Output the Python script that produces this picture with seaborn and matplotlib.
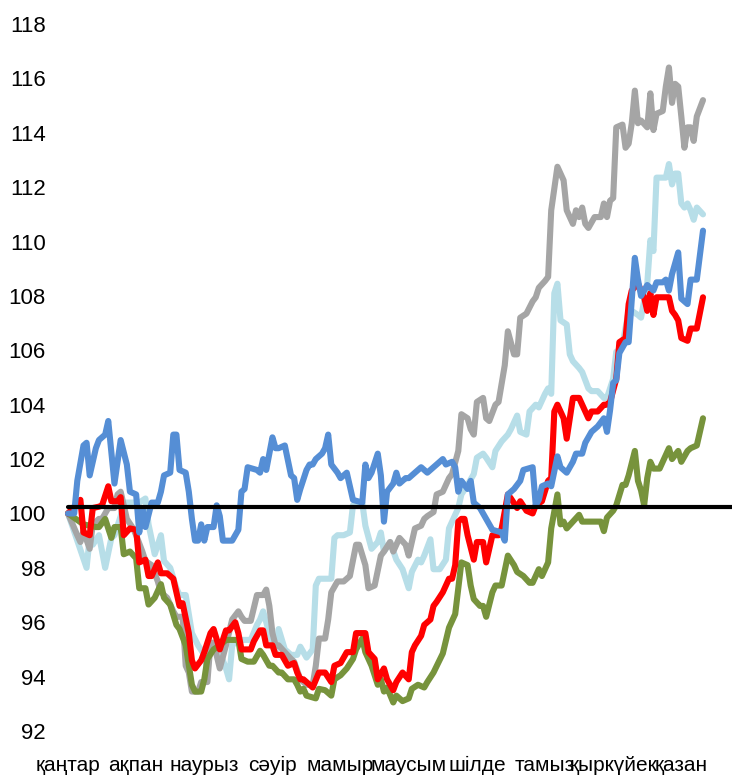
import numpy as np
import pandas as pd
import matplotlib
matplotlib.use("Agg")
import matplotlib.pyplot as plt
import seaborn as sns

months = ["қаңтар", "ақпан", "наурыз", "сәуір", "мамыр", "маусым",
          "шілде", "тамыз", "қыркүйек", "қазан"]
month_start_day = [0, 22, 44, 66, 88, 110, 132, 154, 176, 198]
yticks = [92, 94, 96, 98, 100, 102, 104, 106, 108, 110, 112, 114, 116, 118]
reference_level = 100.25

blue_day = [0, 2, 3, 5, 6, 7, 9, 10, 12, 13, 15, 17, 19, 20, 22, 23, 24, 25, 27, 29, 30, 31, 33, 34, 35, 36, 38, 39, 40, 41, 42, 43, 44, 45, 47, 48, 49, 50, 53, 55, 56, 57, 58, 61, 62, 63, 64, 66, 67, 68, 70, 72, 73, 74, 75, 77, 78, 79, 80, 82, 83, 84, 85, 87, 88, 90, 92, 95, 96, 97, 98, 100, 101, 102, 103, 105, 106, 107, 109, 110, 112, 114, 116, 117, 119, 121, 122, 124, 125, 126, 127, 129, 130, 131, 133, 135, 137, 140, 141, 142, 144, 146, 147, 150, 151, 152, 153, 155, 156, 158, 159, 161, 163, 164, 166, 167, 169, 171, 173, 174, 175, 176, 177, 178, 180, 181, 183, 184, 185, 187, 189, 190, 192, 193, 194, 195, 197, 198, 200, 201, 203, 205]
blue_val = [100.0, 100.0, 101.2, 102.5, 102.6, 101.4, 102.4, 102.7, 102.9, 103.4, 101.1, 102.7, 101.8, 100.8, 100.7, 99.3, 100.2, 99.5, 100.4, 100.4, 100.8, 101.4, 101.5, 102.9, 102.9, 101.6, 101.5, 100.8, 99.8, 99.0, 99.0, 99.6, 99.0, 99.5, 99.5, 100.3, 99.9, 99.0, 99.0, 99.4, 100.8, 100.9, 101.7, 101.6, 101.5, 102.0, 101.6, 102.8, 102.4, 102.4, 102.5, 101.4, 101.3, 100.5, 100.9, 101.6, 101.8, 101.8, 102.0, 102.2, 102.4, 102.9, 101.8, 101.5, 101.3, 101.5, 100.5, 100.4, 101.8, 101.3, 101.5, 102.2, 101.4, 99.7, 100.8, 101.1, 101.5, 101.1, 101.3, 101.3, 101.5, 101.7, 101.5, 101.6, 101.8, 102.0, 101.8, 101.9, 101.7, 100.8, 101.2, 100.9, 101.2, 100.4, 100.2, 99.8, 99.4, 99.3, 99.0, 100.7, 100.9, 101.2, 101.6, 101.7, 100.3, 100.5, 101.0, 101.1, 101.0, 102.1, 101.7, 101.5, 101.9, 102.2, 102.2, 102.6, 103.0, 103.2, 103.5, 103.0, 103.8, 104.8, 104.9, 105.9, 106.3, 106.3, 109.4, 108.6, 108.0, 108.4, 108.2, 108.5, 108.5, 108.6, 108.2, 108.8, 109.6, 107.9, 107.7, 108.6, 108.6, 110.4]

red_day = [0, 4, 5, 7, 8, 10, 11, 13, 14, 16, 17, 18, 20, 22, 23, 25, 26, 27, 29, 30, 32, 34, 35, 36, 37, 39, 40, 41, 43, 44, 46, 47, 49, 51, 52, 54, 55, 56, 59, 60, 62, 63, 64, 66, 67, 69, 71, 73, 74, 75, 76, 77, 79, 81, 83, 85, 86, 88, 90, 92, 93, 96, 97, 99, 100, 102, 103, 105, 106, 108, 110, 111, 112, 114, 115, 117, 118, 119, 121, 123, 124, 125, 126, 127, 128, 129, 131, 132, 134, 135, 137, 139, 140, 142, 143, 145, 146, 148, 150, 151, 153, 155, 156, 157, 158, 160, 161, 163, 165, 166, 168, 169, 171, 173, 174, 175, 177, 178, 180, 181, 182, 184, 185, 186, 187, 188, 189, 190, 192, 194, 195, 196, 197, 198, 200, 201, 203, 205]
red_val = [100.0, 100.5, 99.3, 99.2, 100.2, 100.25, 100.3, 101.0, 100.45, 100.45, 100.6, 99.2, 99.45, 99.4, 98.2, 98.3, 97.7, 97.7, 98.2, 97.8, 97.8, 97.6, 97.1, 96.6, 96.7, 95.6, 94.6, 94.3, 94.6, 94.9, 95.6, 95.75, 95.0, 95.7, 95.7, 96.0, 95.6, 95.0, 95.0, 95.3, 95.7, 95.7, 95.15, 95.15, 94.8, 94.8, 94.4, 94.5, 94.15, 93.9, 93.9, 93.8, 93.6, 94.15, 94.15, 93.8, 94.4, 94.5, 94.9, 94.9, 95.6, 95.6, 94.9, 94.65, 93.9, 94.3, 93.9, 93.5, 93.8, 94.15, 93.9, 94.9, 95.15, 95.5, 95.9, 96.1, 96.6, 96.75, 97.1, 97.6, 97.6, 98.1, 99.7, 99.8, 99.8, 99.2, 98.3, 98.95, 98.95, 98.2, 99.2, 99.2, 99.45, 100.7, 100.55, 100.2, 100.45, 100.1, 100.0, 100.3, 100.45, 101.2, 101.3, 103.75, 104.0, 103.5, 102.75, 104.25, 104.25, 104.0, 103.5, 103.75, 103.75, 104.0, 104.0, 104.1, 104.95, 106.3, 106.45, 107.7, 108.2, 108.45, 108.2, 107.95, 107.45, 108.1, 107.3, 107.95, 107.95, 107.95, 107.45, 107.3, 107.1, 106.45, 106.35, 106.8, 106.8, 107.95]

olive_day = [0, 5, 9, 10, 12, 14, 15, 17, 18, 20, 22, 23, 25, 26, 28, 30, 31, 33, 35, 36, 38, 40, 41, 43, 44, 45, 47, 49, 51, 53, 55, 56, 58, 60, 62, 63, 65, 66, 68, 69, 71, 73, 74, 75, 76, 77, 80, 81, 83, 85, 86, 88, 90, 92, 93, 95, 96, 98, 100, 101, 102, 103, 105, 106, 108, 110, 111, 113, 115, 116, 118, 121, 123, 125, 127, 129, 130, 131, 133, 134, 135, 137, 138, 140, 142, 144, 145, 147, 149, 150, 152, 153, 155, 156, 158, 159, 160, 161, 163, 165, 166, 168, 171, 172, 173, 174, 176, 177, 179, 180, 181, 183, 184, 185, 186, 187, 188, 189, 191, 193, 194, 195, 197, 198, 200, 201, 203, 205]
olive_val = [100.0, 99.6, 99.5, 99.5, 99.8, 99.1, 99.5, 99.5, 98.5, 98.6, 98.35, 97.25, 97.25, 96.65, 96.9, 97.4, 96.9, 96.65, 95.9, 95.75, 95.15, 93.7, 93.45, 93.45, 93.9, 94.65, 95.0, 95.15, 95.35, 95.35, 95.35, 94.65, 94.55, 94.55, 94.95, 94.8, 94.4, 94.4, 94.15, 94.15, 93.9, 93.9, 93.7, 93.45, 93.55, 93.3, 93.2, 93.55, 93.5, 93.3, 93.9, 94.05, 94.3, 94.65, 95.0, 95.4, 94.9, 94.4, 93.7, 93.9, 93.45, 93.6, 93.05, 93.3, 93.1, 93.2, 93.55, 93.7, 93.6, 93.8, 94.15, 94.85, 95.8, 96.3, 98.2, 98.1, 97.35, 96.85, 96.6, 96.6, 96.2, 97.1, 97.35, 97.35, 98.45, 98.1, 97.85, 97.7, 97.45, 97.45, 97.95, 97.7, 98.2, 99.45, 100.7, 99.6, 99.7, 99.45, 99.7, 99.95, 99.7, 99.7, 99.7, 99.7, 99.35, 99.85, 100.1, 100.3, 101.05, 101.05, 101.4, 102.3, 101.2, 100.85, 100.3, 101.3, 101.9, 101.65, 101.65, 102.15, 102.4, 102.0, 102.3, 101.9, 102.3, 102.4, 102.5, 103.5]

gray_day = [0, 3, 4, 5, 7, 8, 10, 11, 13, 15, 16, 17, 19, 21, 22, 24, 25, 27, 29, 30, 32, 34, 35, 37, 38, 39, 40, 42, 43, 45, 46, 47, 49, 51, 53, 55, 56, 57, 59, 61, 63, 64, 65, 66, 67, 68, 70, 72, 73, 75, 76, 77, 79, 80, 81, 83, 84, 85, 87, 89, 91, 93, 94, 96, 97, 99, 101, 102, 104, 105, 107, 109, 110, 112, 114, 115, 116, 118, 119, 121, 123, 124, 126, 127, 129, 130, 131, 132, 134, 135, 136, 138, 139, 141, 142, 144, 145, 146, 148, 150, 151, 152, 154, 155, 156, 158, 159, 160, 161, 163, 164, 165, 166, 167, 168, 170, 172, 173, 174, 175, 176, 177, 179, 180, 181, 182, 183, 184, 185, 187, 188, 189, 190, 192, 193, 194, 195, 196, 197, 198, 199, 200, 201, 202, 203, 205]
gray_val = [100.0, 99.2, 98.95, 99.35, 98.7, 99.6, 99.8, 99.8, 100.2, 100.2, 100.7, 100.8, 99.8, 99.45, 99.2, 98.6, 98.25, 98.1, 97.5, 97.1, 96.9, 96.4, 96.2, 96.2, 94.4, 94.15, 93.45, 93.45, 93.8, 93.8, 95.25, 95.25, 94.3, 95.15, 96.1, 96.4, 96.2, 96.05, 96.05, 97.0, 97.0, 97.2, 96.6, 95.6, 95.15, 95.15, 94.9, 94.65, 94.55, 93.9, 93.8, 93.7, 93.7, 94.4, 95.4, 95.4, 96.1, 97.1, 97.5, 97.5, 97.7, 98.85, 98.85, 98.1, 97.25, 97.35, 98.45, 98.6, 98.95, 98.6, 99.1, 98.85, 98.45, 99.45, 99.55, 99.8, 99.9, 100.05, 100.7, 100.8, 101.3, 101.45, 102.3, 103.65, 103.5, 103.1, 102.9, 104.1, 104.25, 103.5, 103.4, 104.0, 104.1, 105.45, 106.7, 105.85, 105.85, 107.2, 107.35, 107.8, 107.95, 108.3, 108.55, 108.7, 111.15, 112.75, 112.5, 112.25, 111.15, 110.65, 111.15, 110.9, 111.25, 110.65, 110.5, 110.9, 110.9, 111.4, 110.9, 111.5, 111.6, 114.2, 114.3, 113.45, 113.6, 114.35, 115.55, 114.35, 114.45, 114.2, 115.45, 114.1, 114.7, 114.8, 115.7, 116.4, 115.1, 115.8, 115.7, 114.6, 113.45, 114.2, 114.2, 113.7, 114.6, 115.2]

light_day = [0, 3, 6, 7, 8, 10, 12, 14, 15, 17, 18, 21, 23, 25, 26, 28, 30, 31, 33, 35, 36, 38, 40, 42, 44, 45, 46, 48, 49, 51, 52, 53, 55, 57, 59, 61, 62, 63, 65, 67, 68, 70, 72, 74, 75, 77, 79, 80, 81, 83, 85, 86, 87, 89, 91, 92, 94, 95, 96, 98, 100, 101, 102, 104, 106, 108, 109, 110, 111, 113, 114, 115, 117, 118, 120, 122, 123, 124, 126, 127, 129, 131, 132, 134, 135, 137, 138, 140, 142, 143, 145, 146, 148, 149, 151, 152, 154, 155, 156, 157, 158, 159, 161, 162, 163, 165, 166, 168, 169, 171, 173, 174, 176, 177, 178, 179, 181, 182, 184, 185, 187, 188, 189, 190, 191, 193, 194, 195, 196, 197, 198, 199, 200, 201, 202, 203, 205]
light_val = [100.0, 99.0, 98.0, 99.1, 98.85, 99.2, 98.0, 99.1, 99.2, 99.9, 100.4, 100.4, 100.4, 100.55, 99.6, 98.5, 99.2, 98.25, 98.0, 97.25, 97.0, 97.0, 95.6, 95.15, 94.8, 94.2, 95.15, 95.15, 94.9, 94.3, 93.9, 95.15, 95.35, 95.35, 95.35, 95.9, 96.1, 96.4, 95.6, 94.9, 95.75, 95.0, 94.8, 94.8, 95.1, 94.7, 95.0, 97.35, 97.6, 97.6, 97.6, 99.1, 99.2, 99.2, 99.3, 100.3, 100.4, 100.4, 99.55, 98.7, 98.95, 99.3, 98.6, 98.95, 98.3, 97.95, 97.6, 97.25, 97.85, 98.3, 98.2, 98.45, 99.05, 97.95, 97.95, 98.3, 99.45, 99.7, 100.2, 100.7, 101.05, 101.45, 102.05, 102.2, 102.05, 101.7, 102.3, 102.65, 102.9, 103.1, 103.6, 103.0, 102.9, 103.75, 104.0, 103.9, 104.4, 104.6, 104.4, 108.1, 108.45, 107.1, 106.95, 105.85, 105.6, 105.35, 105.2, 104.6, 104.5, 104.5, 104.25, 104.25, 104.95, 105.95, 106.0, 106.2, 107.45, 107.45, 107.3, 107.2, 108.45, 110.05, 109.65, 112.35, 112.35, 112.35, 112.85, 112.1, 112.5, 112.5, 111.4, 111.25, 111.4, 111.15, 110.8, 111.25, 111.0]

series = {
    "light": (light_day, light_val),
    "gray": (gray_day, gray_val),
    "olive": (olive_day, olive_val),
    "red": (red_day, red_val),
    "blue": (blue_day, blue_val),
}
palette = {"light": "#B7DEE8", "gray": "#A5A5A5", "olive": "#77933C",
           "red": "#FF0000", "blue": "#558ED5"}

frames = []
for name, (d, v) in series.items():
    frames.append(pd.DataFrame({"day": d, "value": v, "series": name}))
df = pd.concat(frames, ignore_index=True)

sns.set_theme(style="white")
plt.rcParams["font.family"] = ["Liberation Sans", "DejaVu Sans"]

W, H = 732, 779
fig = plt.figure(figsize=(W / 100, H / 100), dpi=100)
ax = fig.add_axes([68 / W, 1 - 731 / H, 635 / W, 707 / H])

sns.lineplot(data=df, x="day", y="value", hue="series",
             hue_order=list(series.keys()), palette=palette,
             linewidth=4.4, legend=False, estimator=None, sort=True, ax=ax)
for ln in ax.get_lines():
    ln.set_clip_on(False)
    ln.set_solid_joinstyle("round")

ax.axhline(reference_level, xmin=0, xmax=1.046, color="black",
           linewidth=3, clip_on=False, zorder=10)

ax.set_xlim(0, 205)
ax.set_ylim(92, 118)
ax.set_yticks(yticks)
ax.set_yticklabels([str(t) for t in yticks])
ax.set_xticks(month_start_day)
ax.set_xticklabels(months)
ax.tick_params(axis="both", length=0, colors="black")
ax.tick_params(axis="y", pad=16, labelsize=16)
ax.tick_params(axis="x", pad=18, labelsize=15)
ax.set_xlabel("")
ax.set_ylabel("")
for s in ax.spines.values():
    s.set_visible(False)

fig.savefig("out.png", dpi=100)
